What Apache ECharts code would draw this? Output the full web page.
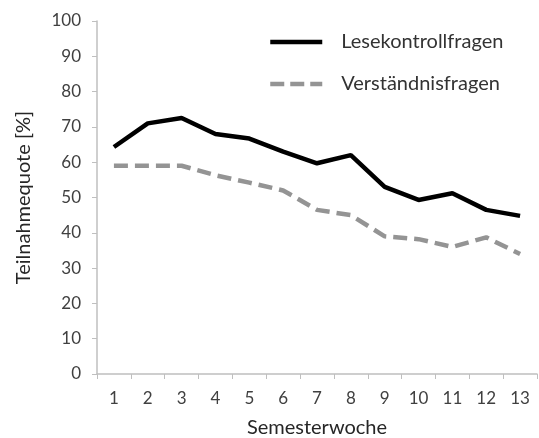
<!DOCTYPE html>
<html><head><meta charset="utf-8">
<script src="https://cdn.jsdelivr.net/npm/echarts@6/dist/echarts.min.js"></script>
<style>html,body{margin:0;padding:0;background:#fff}#c{width:539px;height:438px}</style>
</head><body><div id="c"></div>
<script>
const categories = ['1','2','3','4','5','6','7','8','9','10','11','12','13'];
const lesekontrollfragen = [64.3, 71, 72.5, 68, 66.7, 63, 59.7, 62, 53, 49.3, 51.2, 46.5, 44.8];
const verstaendnisfragen = [59, 59, 59, 56.3, 54.2, 52, 46.5, 45, 39, 38.2, 36, 38.7, 34];
const seriesNames = ['Lesekontrollfragen', 'Verständnisfragen'];
const FONT = 'Lato, "Liberation Sans", sans-serif';
const chart = echarts.init(document.getElementById('c'));
chart.setOption({
  animation: false,
  textStyle: {fontFamily: FONT},
  grid: {left: 97, right: 2, top: 21, bottom: 64, outerBoundsMode: 'none', containLabel: false},
  legend: {
    orient: 'vertical', left: 263, top: 27,
    itemWidth: 52, itemHeight: 4, itemGap: 22,
    itemStyle: {opacity: 0},
    textStyle: {fontSize: 20, color: '#333333', fontFamily: FONT, padding: [0,0,0,14]},
    data: [
      {name: seriesNames[0], lineStyle: {width: 4.5, color: '#000', type: 'solid'}},
      {name: seriesNames[1], lineStyle: {width: 4.5, color: '#949494', type: [14, 6]}}
    ]
  },
  xAxis: {
    type: 'category', data: categories, boundaryGap: true,
    name: 'Semesterwoche', nameLocation: 'middle', nameGap: 44,
    nameTextStyle: {fontSize: 20, color: '#262626'},
    axisLine: {lineStyle: {color: '#bfbfbf', width: 1.5}},
    axisTick: {show: true, length: 5, lineStyle: {color: '#bfbfbf'}},
    axisLabel: {fontSize: 17, color: '#404040', margin: 16}
  },
  yAxis: {
    type: 'value', min: 0, max: 100, interval: 10,
    name: 'Teilnahmequote [%]', nameLocation: 'middle', nameGap: 63, nameRotate: 90,
    nameTextStyle: {fontSize: 20, color: '#262626'},
    axisLine: {show: true, lineStyle: {color: '#bfbfbf', width: 1.5}},
    axisTick: {show: true, length: 5, lineStyle: {color: '#bfbfbf'}},
    axisLabel: {fontSize: 17, color: '#404040', margin: 16},
    splitLine: {show: false}
  },
  series: [
    {name: seriesNames[0], type: 'line', data: lesekontrollfragen, symbol: 'none',
     lineStyle: {color: '#000', width: 4.5}, itemStyle: {color: '#000'}},
    {name: seriesNames[1], type: 'line', data: verstaendnisfragen, symbol: 'none',
     lineStyle: {color: '#949494', width: 4.5, type: [14, 7]}, itemStyle: {color: '#949494'}}
  ]
});
</script></body></html>
